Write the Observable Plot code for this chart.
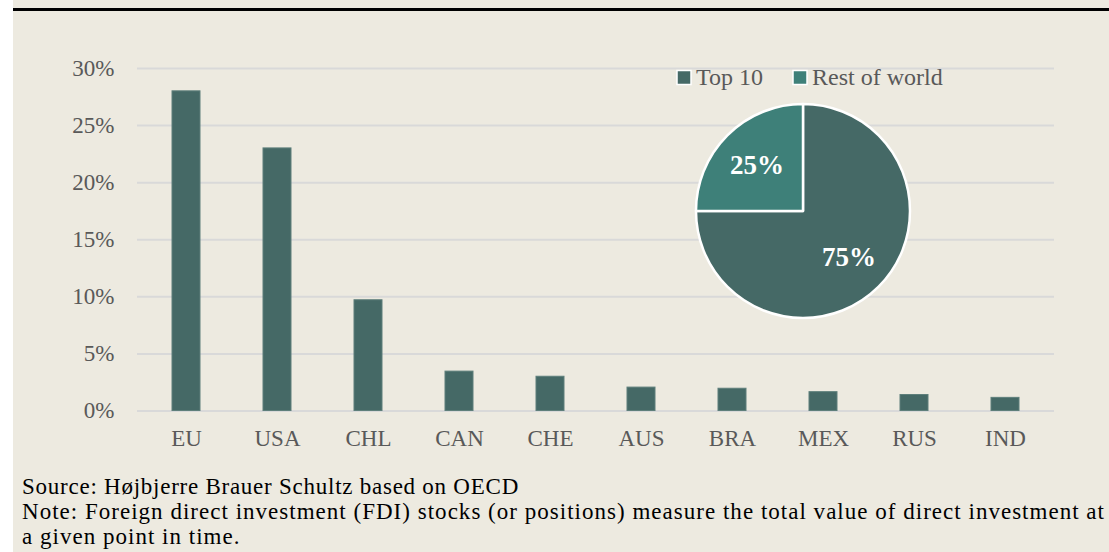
<!DOCTYPE html>
<html><head><meta charset="utf-8">
<script src="https://cdn.jsdelivr.net/npm/d3@7"></script>
<script src="https://cdn.jsdelivr.net/npm/@observablehq/plot@0.6"></script>
<style>
html,body{margin:0;padding:0;background:#fff;width:1109px;height:552px;overflow:hidden;}
#bg{position:absolute;left:13px;top:0;width:1096px;height:552px;background:#EDEAE0;}
#rule{position:absolute;left:13px;top:8px;width:1096px;height:3px;background:#000;}
#chart{position:absolute;left:0;top:11px;}
#caption{position:absolute;left:22px;top:474px;font-family:"Liberation Serif",serif;font-size:23px;line-height:25px;color:#000;white-space:nowrap;}
#caption span{display:inline-block;}
</style></head><body>
<div id="bg"></div><div id="rule"></div><div id="chart"></div>
<div id="caption">
<div><span data-w="497">Source: Højbjerre Brauer Schultz based on OECD</span></div>
<div><span data-w="1083">Note: Foreign direct investment (FDI) stocks (or positions) measure the total value of direct investment at</span></div>
<div><span data-w="0">a given point in time.</span></div>
</div>
<script>
const countries = ["EU","USA","CHL","CAN","CHE","AUS","BRA","MEX","RUS","IND"];
const shares = [28.0, 23.0, 9.7, 3.45, 3.0, 2.05, 1.95, 1.65, 1.4, 1.15];
const yTicks = [0, 5, 10, 15, 20, 25, 30];
const pieLabels = ["Top 10", "Rest of world"];
const pieValues = [75, 25];
const pieColors = ["#456966", "#3E8079"];

const barData = countries.map((c, i) => ({country: c, share: shares[i]}));
const pieData = pieLabels.map((l, i) => ({label: l, value: pieValues[i], color: pieColors[i]}));

function pieAndLegend() {
  const g = d3.create("svg:g").attr("text-anchor", "start");
  const cx = 803, cy = 200, r = 107;
  const arcs = d3.pie().sort(null).value(d => d.value)(pieData);
  const arc = d3.arc().innerRadius(0).outerRadius(r);
  const pg = g.append("g").attr("transform", `translate(${cx},${cy})`);
  pg.selectAll("path").data(arcs).join("path")
    .attr("d", arc).attr("fill", d => d.data.color)
    .attr("stroke", "#fff").attr("stroke-width", 2.5).attr("stroke-linejoin", "round");
  const la = d3.arc().innerRadius(130).outerRadius(0);
  pg.selectAll("text").data(arcs).join("text")
    .attr("transform", d => { const [x, y] = la.centroid(d); return `translate(${x},${y})`; })
    .attr("text-anchor", "middle").attr("dy", "0.35em")
    .attr("fill", "#fff").attr("font-weight", "bold").attr("font-size", 27)
    .text(d => d.data.value + "%");
  // legend
  const lx = [677, 793];
  const lg = g.append("g");
  pieData.forEach((d, i) => {
    lg.append("rect").attr("x", lx[i]).attr("y", 59.5).attr("width", 14).attr("height", 14)
      .attr("fill", d.color).attr("stroke", "#fff").attr("stroke-width", 1.5);
    lg.append("text").attr("x", lx[i] + 19).attr("y", 74).attr("font-size", 24)
      .attr("text-anchor", "start").attr("fill", "#595959").text(d.label);
  });
  return g.node();
}

const chart = Plot.plot({
  width: 1109,
  height: 459,
  marginLeft: 137,
  marginRight: 55,
  marginTop: 57,
  marginBottom: 59.5,
  style: {fontFamily: "'Liberation Serif', serif", fontSize: "23px", color: "#595959", background: "transparent", overflow: "visible"},
  x: {domain: countries, paddingInner: 0.69, paddingOuter: 0.345, label: null},
  y: {domain: [0, 30], label: null},
  marks: [
    Plot.gridY(yTicks, {stroke: "#D9D9D9", strokeOpacity: 1, strokeWidth: 2}),
    Plot.axisY(yTicks, {tickSize: 0, tickPadding: 23, tickFormat: d => d + "%", fill: "#595959"}),
    Plot.axisX({tickSize: 0, tickPadding: 19, fill: "#595959"}),
    Plot.barY(barData, {x: "country", y: "share", fill: "#456966", stroke: "#5E7F7B", strokeWidth: 1}),
    pieAndLegend
  ]
});
document.getElementById("chart").appendChild(chart);

// fit caption lines to the reference widths; the last line reuses the note's spacing
let lastSpacing = 0;
document.querySelectorAll("#caption span").forEach(s => {
  const target = +s.dataset.w;
  if (!target) { s.style.letterSpacing = lastSpacing + "px"; return; }
  const n = s.textContent.length;
  const w = s.getBoundingClientRect().width;
  lastSpacing = (target - w) / n;
  s.style.letterSpacing = lastSpacing + "px";
});
</script>
</body></html>
